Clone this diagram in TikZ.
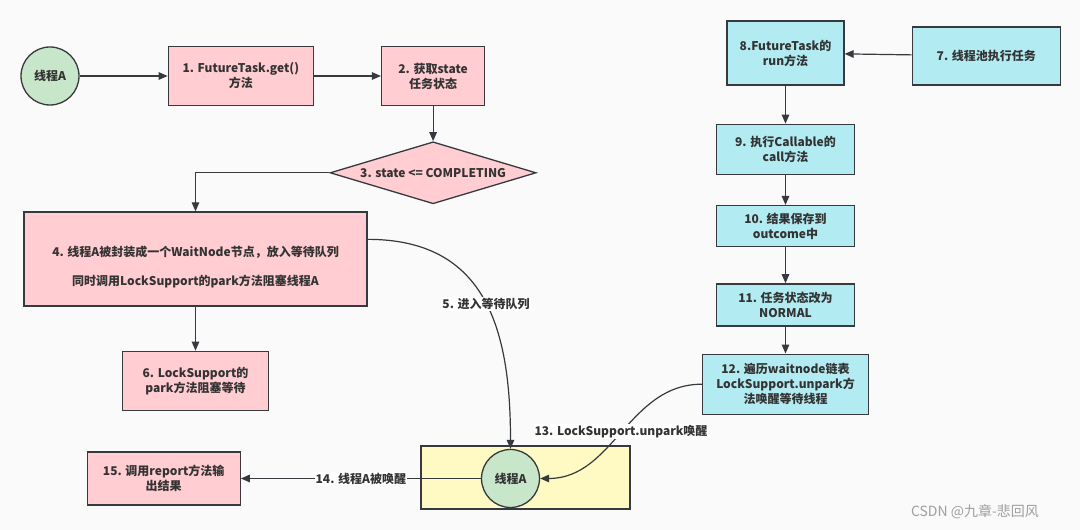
\documentclass[tikz,border=0pt]{standalone}
\usepackage{fontspec}
\setmainfont{Noto Sans CJK SC}
\usepackage{xcolor}
\usepackage{tikz}
\definecolor{paper}{HTML}{FAFAFA}
\definecolor{pinkfill}{HTML}{FFCDD2}
\definecolor{cyanfill}{HTML}{B2EBF2}
\definecolor{greenfill}{HTML}{C8E6C9}
\definecolor{yellowfill}{HTML}{FFF9C4}
\definecolor{edge}{HTML}{36393D}
\definecolor{ink}{HTML}{333333}
\usetikzlibrary{shapes.geometric, arrows.meta, positioning}

\begin{document}
\begin{tikzpicture}[x=1pt, y=1pt,
    stepbox/.style={draw=edge, line width=1.3pt, fill=pinkfill, text=ink, font=\bfseries\fontsize{12}{15}\selectfont, align=center, inner sep=2pt},
    poolbox/.style={stepbox, fill=cyanfill},
    thread/.style={circle, draw=edge, line width=1.3pt, fill=greenfill, text=ink, font=\bfseries\fontsize{12}{15}\selectfont, minimum size=58pt, inner sep=0pt},
    cond/.style={diamond, aspect=3.3, stepbox, inner sep=0pt},
    arrow/.style={-{Triangle[length=9pt,width=7.5pt]}, line width=1.2pt, draw=edge},
    tag/.style={fill=white, text=ink, font=\bfseries\fontsize{12}{15}\selectfont, inner sep=1pt}
]
    \fill[paper] (0,0) rectangle (1080,530);

    % thread A asks for the result
    \node[thread] (thrA) at (50,454) {线程A};
    \node[stepbox, minimum width=145pt, minimum height=59pt, right=88pt of thrA] (get) {1. FutureTask.get()\\方法};
    \node[stepbox, minimum width=103pt, minimum height=59pt, right=67pt of get] (state) {2. 获取state\\任务状态};
    \node[cond, minimum width=206pt, minimum height=62pt, below=35pt of state] (check) {3. state <= COMPLETING};
    \node[stepbox, minimum width=343pt, minimum height=94pt] (wrap) at (195.5,271) {\rule{0pt}{26pt}4. 线程A被封装成一个WaitNode节点，放入等待队列\\[14pt]同时调用LockSupport的park方法阻塞线程A};
    \node[stepbox, minimum width=146pt, minimum height=59pt, below=44pt of wrap] (park) {6. LockSupport的\\park方法阻塞等待};

    % wake up
    \node[draw=edge, line width=1.3pt, fill=yellowfill, minimum width=209pt, minimum height=63pt] (wake) at (525.5,52.5) {};
    \node[thread] (thrB) at (510.5,51.5) {线程A};
    \node[stepbox, minimum width=153pt, minimum height=53pt, left=240pt of thrB] (report) {15. 调用report方法输\\出结果};

    % thread pool side
    \node[poolbox, minimum width=117pt, minimum height=64pt] (run) at (785.5,477) {8.FutureTask的\\run方法};
    \node[poolbox, minimum width=148pt, minimum height=58pt, right=67pt of run, yshift=-3pt] (pool) {7. 线程池执行任务};
    \node[poolbox, minimum width=138pt, minimum height=50pt, below=38pt of run] (call) {9. 执行Callable的\\call方法};
    \node[poolbox, minimum width=138pt, minimum height=41pt, below=30pt of call] (save) {10. 结果保存到\\outcome中};
    \node[poolbox, minimum width=138pt, minimum height=42pt, below=36pt of save] (normal) {11. 任务状态改为\\NORMAL};
    \node[poolbox, minimum width=166pt, minimum height=60pt, below=27pt of normal] (unpark) {12. 遍历waitnode链表\\LockSupport.unpark方\\法唤醒等待线程};

    \draw[arrow] (thrA) -- (get);
    \draw[arrow] (get) -- (state);
    \draw[arrow] (state) -- (check);
    \draw[arrow] (check.west) -| (wrap.north);
    \draw[arrow] (wrap) -- (park);
    \draw[arrow] ([yshift=-28pt]wrap.north east) to[out=0, in=90, looseness=1.2] node[tag, pos=0.52] {5. 进入等待队列} (thrB.north);

    \draw[arrow] (pool) -- (run);
    \draw[arrow] (run) -- (call);
    \draw[arrow] (call) -- (save);
    \draw[arrow] (save) -- (normal);
    \draw[arrow] (normal) -- (unpark);
    \draw[arrow] (unpark.west) to[out=180, in=0] node[tag] {13. LockSupport.unpark唤醒} (thrB.east);
    \draw[arrow] (thrB) -- node[tag] {14. 线程A被唤醒} (report);

    % Labels
    \node[text=gray!75, font=\fontsize{14}{16}\selectfont] (mark) at (975,18) {CSDN @九章-悲回风};
\end{tikzpicture}
\end{document}
